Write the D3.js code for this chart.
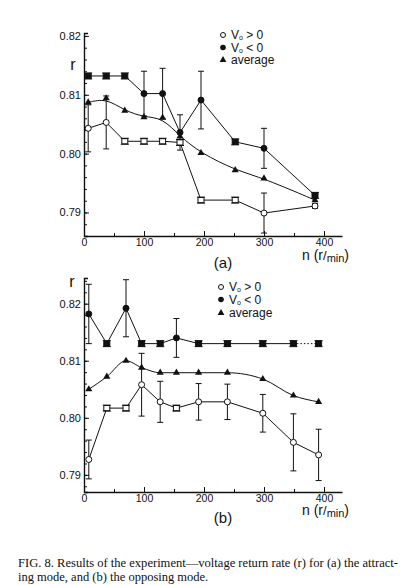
<!DOCTYPE html>
<html>
<head>
<meta charset="utf-8">
<script src="https://cdn.jsdelivr.net/npm/d3@7/dist/d3.min.js"></script>
<style>
  body { margin: 0; background: #fff; }
  svg { display: block; }
  .tick text { font-family: "Liberation Sans", Arial, sans-serif; fill: #111; }
  .domain, .tick line { stroke: #111; }
</style>
</head>
<body>
<svg id="chart" width="412" height="585"></svg>
<script>
// panel (a): attracting mode
const nA = [7, 37, 68, 100, 131, 160, 195, 252, 300, 385];
const posA = [0.8043, 0.8053, 0.8021, 0.8021, 0.8021, 0.8019, 0.7921, 0.7921, 0.7899, 0.7911];
const posErrA = [0.0040, 0.0045, 0, 0, 0, 0, 0, 0, 0.0034, 0.0004];
const negA = [0.8132, 0.8132, 0.8132, 0.8102, 0.8102, 0.8036, 0.8091, 0.8020, 0.8009, 0.7929];
const negErrA = [0, 0, 0, 0.0038, 0.0043, 0.0030, 0.0049, 0, 0.0034, 0];
const avgA = [0.8087, 0.8094, 0.8073, 0.8062, 0.8061, 0.8029, 0.8001, 0.7972, 0.7958, 0.7921];

// panel (b): opposing mode
const nB = [8, 38, 70, 96, 127, 154, 191, 239, 298, 349, 391];
const posB = [0.7927, 0.8017, 0.8017, 0.8058, 0.8028, 0.8017, 0.8028, 0.8028, 0.8008, 0.7957, 0.7935];
const posErrB = [0.0034, 0, 0, 0.0055, 0.0036, 0, 0.0032, 0.0031, 0.0033, 0.0050, 0.0045];
const negB = [0.8182, 0.8130, 0.8192, 0.8130, 0.8130, 0.8140, 0.8130, 0.8130, 0.8130, 0.8130, 0.8130];
const negErrB = [0.0052, 0, 0.0050, 0, 0, 0.0034, 0, 0, 0, 0, 0];
const avgB = [0.8050, 0.8072, 0.8100, 0.8088, 0.8079, 0.8079, 0.8079, 0.8079, 0.8068, 0.8039, 0.8028];

const yTicks = [0.79, 0.80, 0.81, 0.82];
const xTicks = [0, 100, 200, 300, 400];
const xMinor = [50, 150, 250, 350];
const legendLabels = ['> 0', '< 0', 'average'];

const svg = d3.select('#chart');
const ink = '#111';
const sans = '"Liberation Sans", Arial, sans-serif';

function drawPanel(cfg){
  const x = d3.scaleLinear().domain([0, 430]).range([84, 342]);
  const y = d3.scaleLinear().domain(cfg.yDomain).range(cfg.yRange);
  const g = svg.append('g');
  const bottom = cfg.yRange[0];

  // minor ticks first
  g.append('g')
    .attr('transform', 'translate(' + x(0) + ',0)')
    .call(d3.axisLeft(y).tickValues(d3.range(0.786, cfg.yDomain[1], 0.002).filter(v => y(v) < bottom - 2))
      .tickSize(-3).tickFormat(''))
    .call(a => a.select('.domain').remove());
  g.append('g')
    .attr('transform', 'translate(0,' + bottom + ')')
    .call(d3.axisBottom(x).tickValues(xMinor).tickSize(-3).tickFormat(''))
    .call(a => a.select('.domain').remove());

  g.append('g')
    .attr('transform', 'translate(' + x(0) + ',0)')
    .call(d3.axisLeft(y).tickValues(yTicks).tickSizeInner(-5).tickSizeOuter(-4)
      .tickPadding(3).tickFormat(d3.format('.2f')))
    .call(a => a.selectAll('.tick text').attr('font-size', 11))
    .call(a => a.select('.domain').attr('stroke-width', 1.4));

  g.append('g')
    .attr('transform', 'translate(0,' + bottom + ')')
    .call(d3.axisBottom(x).tickValues(xTicks).tickSizeInner(-5).tickSizeOuter(0).tickPadding(3))
    .call(a => a.selectAll('.tick text').attr('font-size', 10.5))
    .call(a => a.select('.domain').attr('stroke-width', 1.4));

  const pts = (vals) => cfg.n.map((d, i) => [d, vals[i]]);
  const line = d3.line().x(d => x(d[0])).y(d => y(d[1]));

  // lines
  g.append('path').datum(pts(cfg.avg))
    .attr('fill', 'none').attr('stroke', ink).attr('stroke-width', 1)
    .attr('d', line.curve(cfg.avgCurve));
  line.curve(d3.curveLinear);
  const neg = pts(cfg.neg);
  g.append('path').datum(neg.slice(0, cfg.negSolid))
    .attr('fill', 'none').attr('stroke', ink).attr('stroke-width', 1)
    .attr('d', line);
  if (cfg.negSolid < neg.length) {
    g.append('path').datum(neg.slice(cfg.negSolid - 1))
      .attr('fill', 'none').attr('stroke', ink).attr('stroke-width', 1)
      .attr('stroke-dasharray', '1.5,2')
      .attr('d', line);
  }
  g.append('path').datum(pts(cfg.pos))
    .attr('fill', 'none').attr('stroke', ink).attr('stroke-width', 1)
    .attr('d', line);

  // error bars
  const bars = [];
  cfg.n.forEach((d, i) => {
    if (cfg.posErr[i] > 0) bars.push({n: d, v: cfg.pos[i], e: cfg.posErr[i]});
    if (cfg.negErr[i] > 0) bars.push({n: d, v: cfg.neg[i], e: cfg.negErr[i]});
  });
  const eb = g.append('g').attr('stroke', ink).attr('stroke-width', 1);
  eb.selectAll('line.v').data(bars).join('line')
    .attr('x1', d => x(d.n)).attr('x2', d => x(d.n))
    .attr('y1', d => y(d.v - d.e)).attr('y2', d => y(d.v + d.e));
  [-1, 1].forEach(s => {
    eb.selectAll('line.c' + s).data(bars).enter().append('line')
      .attr('x1', d => x(d.n) - 3).attr('x2', d => x(d.n) + 3)
      .attr('y1', d => y(d.v + s * d.e)).attr('y2', d => y(d.v + s * d.e));
  });

  // markers
  const tri = d3.symbol().type(d3.symbolTriangle).size(22);
  g.selectAll('path.avg').data(pts(cfg.avg)).enter().append('path')
    .attr('transform', d => 'translate(' + x(d[0]) + ',' + y(d[1]) + ')')
    .attr('d', tri).attr('fill', ink);

  function markers(vals, errs, fill){
    const mg = g.append('g');
    cfg.n.forEach((d, i) => {
      const cx = x(d), cy = y(vals[i]);
      if (errs[i] > 0) {
        mg.append('circle').attr('cx', cx).attr('cy', cy).attr('r', 3)
          .attr('fill', fill).attr('stroke', ink).attr('stroke-width', 1);
      } else {
        mg.append('rect').attr('x', cx - 3).attr('y', cy - 2.6).attr('width', 6).attr('height', 5.2)
          .attr('fill', fill).attr('stroke', ink).attr('stroke-width', 1);
        mg.append('path').attr('d', 'M' + (cx - 4) + ',' + (cy - 3) + 'H' + (cx + 4) +
            'M' + (cx - 4) + ',' + (cy + 3) + 'H' + (cx + 4))
          .attr('stroke', ink).attr('stroke-width', 1);
      }
    });
  }
  markers(cfg.pos, cfg.posErr, '#fff');
  markers(cfg.neg, cfg.negErr, ink);

  // legend
  const lg = g.append('g').attr('font-family', sans).attr('font-size', 12).attr('fill', ink);
  cfg.legendY.forEach((ly, i) => {
    const mx = cfg.legendX;
    if (i === 0) lg.append('circle').attr('cx', mx).attr('cy', ly).attr('r', 2.5)
      .attr('fill', '#fff').attr('stroke', ink);
    if (i === 1) lg.append('circle').attr('cx', mx).attr('cy', ly).attr('r', 2.8).attr('fill', ink);
    if (i === 2) lg.append('path').attr('transform', 'translate(' + mx + ',' + ly + ')')
      .attr('d', d3.symbol().type(d3.symbolTriangle).size(20)).attr('fill', ink);
    const t = lg.append('text').attr('x', mx + 8).attr('y', ly + 4);
    if (i < 2) {
      t.append('tspan').text('V');
      t.append('tspan').attr('font-size', 7).attr('dy', 1).text('o');
      t.append('tspan').attr('dy', -1).text(' ' + legendLabels[i]);
    } else {
      t.text(legendLabels[i]);
    }
  });

  // axis titles
  g.append('text').attr('x', cfg.rPos[0]).attr('y', cfg.rPos[1])
    .attr('font-family', sans).attr('font-size', 16).attr('text-anchor', 'middle')
    .attr('fill', ink).text('r');
  const nt = g.append('text').attr('x', 302).attr('y', bottom + cfg.nDy)
    .attr('font-family', sans).attr('font-size', 14).attr('fill', ink);
  nt.append('tspan').text('n (r');
  nt.append('tspan').attr('font-size', 13).text('/');
  nt.append('tspan').attr('font-size', 11).attr('dy', 2).text('min');
  nt.append('tspan').attr('dy', -2).text(')');
  g.append('text').attr('x', 223).attr('y', bottom + cfg.labelDy)
    .attr('font-family', sans).attr('font-size', 15).attr('text-anchor', 'middle')
    .attr('fill', ink).text(cfg.label);
}

drawPanel({
  n: nA, pos: posA, posErr: posErrA, neg: negA, negErr: negErrA, avg: avgA,
  yDomain: [0.786, 0.8205], yRange: [236, 33],
  avgCurve: d3.curveBasis, negSolid: nA.length,
  legendX: 223, legendY: [35, 47.5, 60], rPos: [73, 70],
  nDy: 24, labelDy: 32, label: '(a)'
});

drawPanel({
  n: nB, pos: posB, posErr: posErrB, neg: negB, negErr: negErrB, avg: avgB,
  yDomain: [0.787, 0.8245], yRange: [492, 278],
  avgCurve: d3.curveMonotoneX, negSolid: nB.length - 1,
  legendX: 221, legendY: [287, 299.5, 313], rPos: [72, 287],
  nDy: 23, labelDy: 31, label: '(b)'
});

// caption
const cap = svg.append('g').attr('font-family', '"Liberation Serif", "Times New Roman", serif')
  .attr('font-size', 12.5).attr('fill', ink);
cap.append('text').attr('x', 18).attr('y', 567)
  .attr('textLength', 380).attr('lengthAdjust', 'spacingAndGlyphs')
  .text('FIG. 8. Results of the experiment\u2014voltage return rate (r) for (a) the attract-');
cap.append('text').attr('x', 18).attr('y', 581)
  .text('ing mode, and (b) the opposing mode.');
</script>
</body>
</html>
